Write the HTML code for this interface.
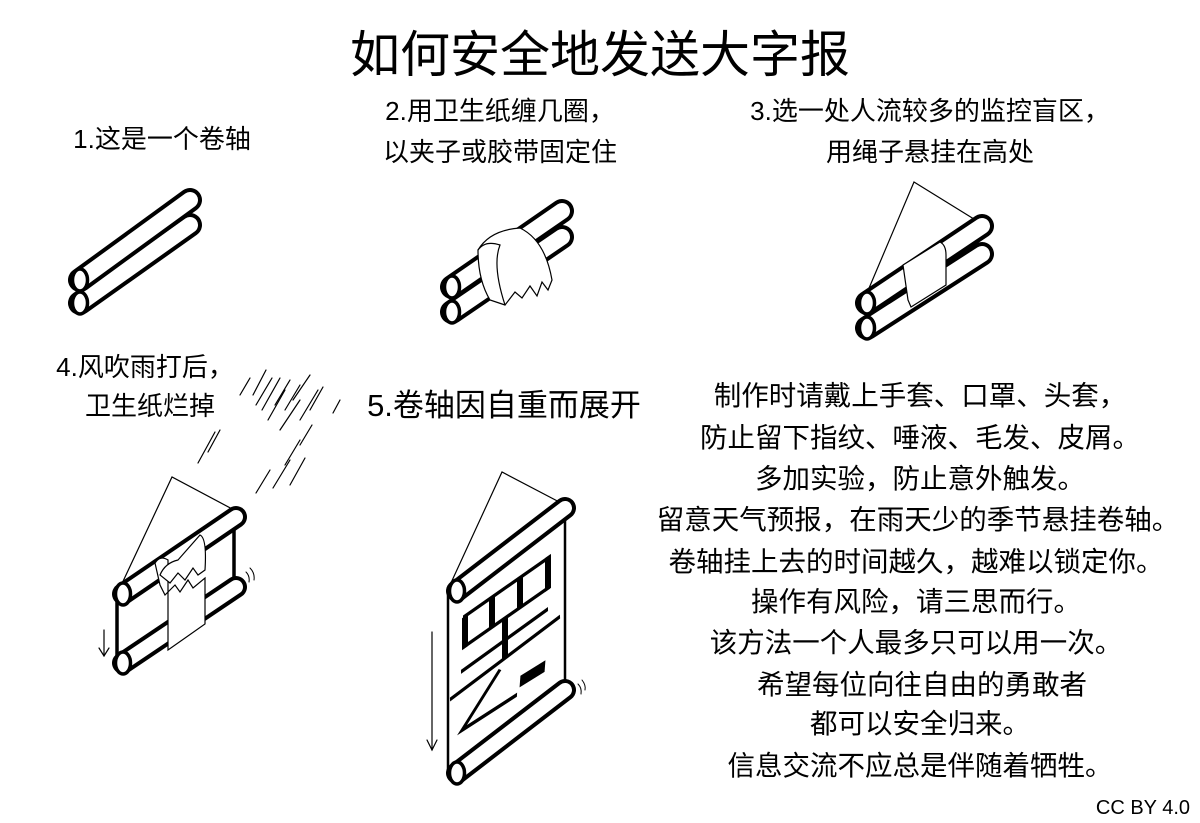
<!DOCTYPE html>
<html><head><meta charset="utf-8"><style>
body{margin:0;background:#fff;width:1200px;height:823px;overflow:hidden}
svg{display:block}
text{font-family:"Liberation Sans","Noto Sans CJK SC",sans-serif;fill:#000}
</style></head><body>
<svg width="1200" height="823" viewBox="0 0 1200 823" xmlns="http://www.w3.org/2000/svg">
<defs>
<g id="cap"><ellipse cx="0" cy="0" rx="7.5" ry="11" fill="#fff" stroke="#000" stroke-width="3.5"/></g>
</defs>
<text x="600" y="72" font-size="50" text-anchor="middle">如何安全地发送大字报</text>
<text x="162" y="148" font-size="26" text-anchor="middle">1.这是一个卷轴</text>
<text x="500" y="120" font-size="26" text-anchor="middle">2.用卫生纸缠几圈，</text>
<text x="500" y="161" font-size="26" text-anchor="middle">以夹子或胶带固定住</text>
<text x="930" y="120" font-size="26" text-anchor="middle">3.选一处人流较多的监控盲区，</text>
<text x="930" y="161" font-size="26" text-anchor="middle">用绳子悬挂在高处</text>
<text x="145" y="376" font-size="26" text-anchor="middle">4.风吹雨打后，</text>
<text x="150" y="415" font-size="26" text-anchor="middle">卫生纸烂掉</text>
<text x="504" y="416" font-size="31" text-anchor="middle">5.卷轴因自重而展开</text>
<g font-size="27.5" text-anchor="middle">
<text x="920" y="405">制作时请戴上手套、口罩、头套，</text>
<text x="920" y="447">防止留下指纹、唾液、毛发、皮屑。</text>
<text x="920" y="488">多加实验，防止意外触发。</text>
<text x="918" y="529">留意天气预报，在雨天少的季节悬挂卷轴。</text>
<text x="916" y="571">卷轴挂上去的时间越久，越难以锁定你。</text>
<text x="916" y="611">操作有风险，请三思而行。</text>
<text x="916" y="652">该方法一个人最多只可以用一次。</text>
<text x="922" y="694">希望每位向往自由的勇敢者</text>
<text x="920" y="733">都可以安全归来。</text>
<text x="920" y="775">信息交流不应总是伴随着牺牲。</text>
</g>
<text x="1190" y="814" font-size="20" text-anchor="end">CC BY 4.0</text>

<g stroke-linecap="round">
<!-- scroll 1 -->
<line x1="80" y1="303" x2="190" y2="225" stroke="#000" stroke-width="24"/>
<line x1="80" y1="303" x2="190" y2="225" stroke="#fff" stroke-width="16"/>
<use href="#cap" x="80" y="303"/>
<line x1="80" y1="280" x2="190" y2="200" stroke="#000" stroke-width="24"/>
<line x1="80" y1="280" x2="190" y2="200" stroke="#fff" stroke-width="16"/>
<use href="#cap" x="80" y="280"/>

<!-- scroll 2 -->
<line x1="452" y1="312" x2="562" y2="237" stroke="#000" stroke-width="24"/>
<line x1="452" y1="312" x2="562" y2="237" stroke="#fff" stroke-width="16"/>
<use href="#cap" x="452" y="312"/>
<line x1="452" y1="287" x2="562" y2="211" stroke="#000" stroke-width="24"/>
<line x1="452" y1="287" x2="562" y2="211" stroke="#fff" stroke-width="16"/>
<use href="#cap" x="452" y="287"/>
<path d="M478,250 Q490,230 520,228 Q545,240 552,280 L548,290 L542,282 L537,296 L530,286 L522,298 L515,292 L505,305 L490,300 Q478,280 478,250 Z" fill="#fff" stroke="#000" stroke-width="1.2"/>
<path d="M478,250 Q485,240 500,245 Q492,265 505,305" fill="none" stroke="#000" stroke-width="1.2"/>

<!-- scroll 3 -->
<polyline points="864,300 914,182 982,224" fill="none" stroke="#000" stroke-width="1.2"/>
<line x1="867" y1="328" x2="982" y2="254" stroke="#000" stroke-width="24"/>
<line x1="867" y1="328" x2="982" y2="254" stroke="#fff" stroke-width="16"/>
<use href="#cap" x="867" y="328"/>
<line x1="867" y1="303" x2="982" y2="226" stroke="#000" stroke-width="24"/>
<line x1="867" y1="303" x2="982" y2="226" stroke="#fff" stroke-width="16"/>
<use href="#cap" x="867" y="303"/>
<path d="M903,265 L940,242 Q946,245 946,255 L946,285 L911,307 L908,300 Z" fill="#fff" stroke="#000" stroke-width="1.2"/>

<!-- rain -->
<g stroke="#000" stroke-width="1.2">
<line x1="240" y1="395" x2="250" y2="378"/><line x1="253" y1="395" x2="266" y2="370"/><line x1="256" y1="405" x2="272" y2="378"/>
<line x1="262" y1="410" x2="280" y2="378"/><line x1="268" y1="420" x2="285" y2="390"/><line x1="275" y1="405" x2="290" y2="380"/>
<line x1="285" y1="410" x2="300" y2="385"/><line x1="293" y1="400" x2="310" y2="375"/><line x1="300" y1="420" x2="318" y2="390"/>
<line x1="310" y1="410" x2="323" y2="387"/><line x1="333" y1="413" x2="340" y2="400"/><line x1="280" y1="430" x2="300" y2="400"/>
<line x1="198" y1="463" x2="215" y2="432"/><line x1="208" y1="452" x2="220" y2="430"/>
<line x1="256" y1="493" x2="270" y2="470"/><line x1="273" y1="488" x2="290" y2="460"/><line x1="290" y1="485" x2="305" y2="458"/>
<line x1="285" y1="465" x2="300" y2="440"/><line x1="300" y1="445" x2="312" y2="425"/>
</g>

<!-- scroll 4 -->
<polyline points="118,592 172,477 236,511" fill="none" stroke="#000" stroke-width="1.2"/>
<line x1="117" y1="594" x2="117" y2="663" stroke="#000" stroke-width="3.5"/>
<line x1="234" y1="517" x2="234" y2="587" stroke="#000" stroke-width="3.5"/>
<line x1="123" y1="663" x2="236" y2="587" stroke="#000" stroke-width="22"/>
<line x1="123" y1="663" x2="236" y2="587" stroke="#fff" stroke-width="14"/>
<use href="#cap" x="123" y="663"/>
<line x1="123" y1="594" x2="236" y2="517" stroke="#000" stroke-width="22"/>
<line x1="123" y1="594" x2="236" y2="517" stroke="#fff" stroke-width="14"/>
<use href="#cap" x="123" y="594"/>
<path d="M155,563 Q160,555 168,560 L168,650 L205,624 L205,578 L193,588 L188,580 L180,592 L175,585 L165,595 L160,585 Z" fill="#fff" stroke="#000" stroke-width="1.2"/>
<path d="M160,575 Q165,563 178,560 L200,535 Q207,538 205,570 L198,575 L193,568 L185,580 L178,573 L170,583 Z" fill="#fff" stroke="#000" stroke-width="1.2"/>
<line x1="104" y1="630" x2="104" y2="656" stroke="#000" stroke-width="1.2"/>
<polyline points="99,648 104,656 109,648" fill="none" stroke="#000" stroke-width="1.2"/>
<path d="M246,572 Q250,576 249,582 M250,568 Q255,573 254,580" fill="none" stroke="#000" stroke-width="1"/>

<!-- scroll 5 -->
<polyline points="450,585 502,472 565,505" fill="none" stroke="#000" stroke-width="1.2"/>
<path d="M448,591 L448,773 L565,690 L565,508 Z" fill="#fff" stroke="#000" stroke-width="2.5"/>
<g transform="matrix(1,-0.7,0,1,448,591)" stroke="#000" stroke-linecap="butt" fill="none">
<line x1="15" y1="37" x2="102" y2="37" stroke-width="4"/>
<line x1="15" y1="67" x2="102" y2="67" stroke-width="4"/>
<line x1="17" y1="37" x2="17" y2="69" stroke-width="6"/>
<line x1="100" y1="35" x2="100" y2="69" stroke-width="6"/>
<line x1="44" y1="37" x2="44" y2="67" stroke-width="6"/>
<line x1="72" y1="37" x2="72" y2="67" stroke-width="6"/>
<line x1="57" y1="67" x2="57" y2="107" stroke-width="6"/>
<line x1="13" y1="90" x2="100" y2="88" stroke-width="4"/>
<line x1="2" y1="110" x2="112" y2="104" stroke-width="4"/>
<polyline points="52,115 14,149 69,152" stroke-width="4"/>
<line x1="72" y1="141" x2="97" y2="143" stroke-width="11"/>
</g>
<line x1="457" y1="773" x2="565" y2="690" stroke="#000" stroke-width="22"/>
<line x1="457" y1="773" x2="565" y2="690" stroke="#fff" stroke-width="14"/>
<use href="#cap" x="457" y="773"/>
<line x1="457" y1="591" x2="565" y2="508" stroke="#000" stroke-width="22"/>
<line x1="457" y1="591" x2="565" y2="508" stroke="#fff" stroke-width="14"/>
<use href="#cap" x="457" y="591"/>
<line x1="432" y1="632" x2="432" y2="750" stroke="#000" stroke-width="1.2"/>
<polyline points="427,740 432,750 437,740" fill="none" stroke="#000" stroke-width="1.2"/>
<path d="M578,684 Q582,688 581,694 M582,680 Q586,685 585,690" fill="none" stroke="#000" stroke-width="1"/>
</g>
</svg>
</body></html>
